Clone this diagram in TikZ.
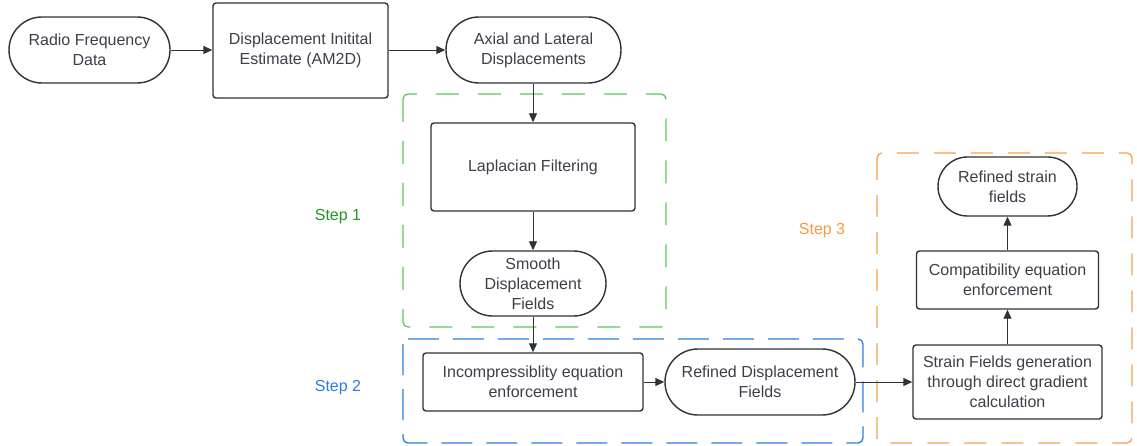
\documentclass[tikz,border=0pt]{standalone}
\usepackage{fontspec}
\setmainfont{Liberation Sans}
\usetikzlibrary{arrows.meta}
\definecolor{inkline}{HTML}{2F3337}
\definecolor{inktext}{HTML}{3B4048}
\definecolor{stepgreen}{HTML}{5CC95C}
\definecolor{stepgreentext}{HTML}{1F9A2A}
\definecolor{stepblue}{HTML}{2B7DE6}
\definecolor{stepbluetext}{HTML}{2A7EE3}
\definecolor{steporange}{HTML}{F7A24E}
\definecolor{steporangetext}{HTML}{F59A45}
\tikzset{
  base/.style={draw=inkline, line width=1.4pt, text=inktext, inner sep=0pt,
    align=center, font=\fontsize{16}{20}\selectfont},
  procbox/.style={base, rounded corners=3pt},
  termbox/.style={base},
  flow/.style={draw=inkline, line width=0.9pt,
    -{Triangle[length=9pt,width=8pt]}},
  group/.style={line width=1.3pt, rounded corners=5pt},
  steplabel/.style={font=\fontsize{16}{20}\selectfont, inner sep=0pt}
}
\begin{document}
\begin{tikzpicture}[x=1pt,y=-1pt]
\useasboundingbox[fill=white] (0,0) rectangle (1137,446);

% step groupings
\draw[group, stepgreen, dash pattern=on 23pt off 19pt] (403,94) rectangle (666,327);
\draw[group, stepblue, dash pattern=on 31pt off 14pt] (403,339) rectangle (863,443);
\draw[group, steporange, dash pattern=on 22pt off 15pt] (877,153) rectangle (1132,443);

\node[steplabel, text=stepgreentext] (s1) at (338,217) {Step 1};
\node[steplabel, text=stepbluetext] (s2) at (338,388) {Step 2};
\node[steplabel, text=steporangetext] (s3) at (822,231) {Step 3};

% top row
\node[termbox, minimum width=161pt, minimum height=66pt, rounded corners=33pt]
  (rf) at (89.5,50) {Radio Frequency\\Data};
\node[procbox, minimum width=175pt, minimum height=95pt]
  (dis) at (300.5,50.5) {Displacement Initital\\Estimate (AM2D)};
\node[termbox, minimum width=175pt, minimum height=66pt, rounded corners=33pt]
  (ax) at (533.5,50) {Axial and Lateral\\Displacements};

% step 1
\node[procbox, minimum width=204pt, minimum height=88pt]
  (lap) at (533,167) {Laplacian Filtering};
\node[termbox, minimum width=146pt, minimum height=65pt, rounded corners=32.5pt]
  (sm) at (533,283.5) {Smooth\\Displacement\\Fields};

% step 2
\node[procbox, minimum width=220pt, minimum height=58pt]
  (inc) at (533,382) {Incompressiblity equation\\enforcement};
\node[termbox, minimum width=190pt, minimum height=66pt, rounded corners=33pt]
  (rdf) at (760,382) {Refined Displacement\\Fields};

% step 3
\node[procbox, minimum width=189pt, minimum height=74pt]
  (sfg) at (1007.5,382) {Strain Fields generation\\through direct gradient\\calculation};
\node[procbox, minimum width=182pt, minimum height=58pt]
  (comp) at (1007.5,280) {Compatibility equation\\enforcement};
\node[termbox, minimum width=139pt, minimum height=59pt, rounded corners=29.5pt]
  (rsf) at (1007.5,186.5) {Refined strain\\fields};

% connectors
\draw[flow] (rf.east) -- (rf.east -| dis.west);
\draw[flow] (dis.east |- ax.west) -- (ax.west);
\draw[flow] (ax.south -| lap.north) -- (lap.north);
\draw[flow] (lap.south) -- (sm.north);
\draw[flow] (sm.south) -- (inc.north);
\draw[flow] (inc.east) -- (rdf.west);
\draw[flow] (rdf.east) -- (sfg.west);
\draw[flow] (sfg.north) -- (comp.south);
\draw[flow] (comp.north) -- (rsf.south);
\end{tikzpicture}
\end{document}
